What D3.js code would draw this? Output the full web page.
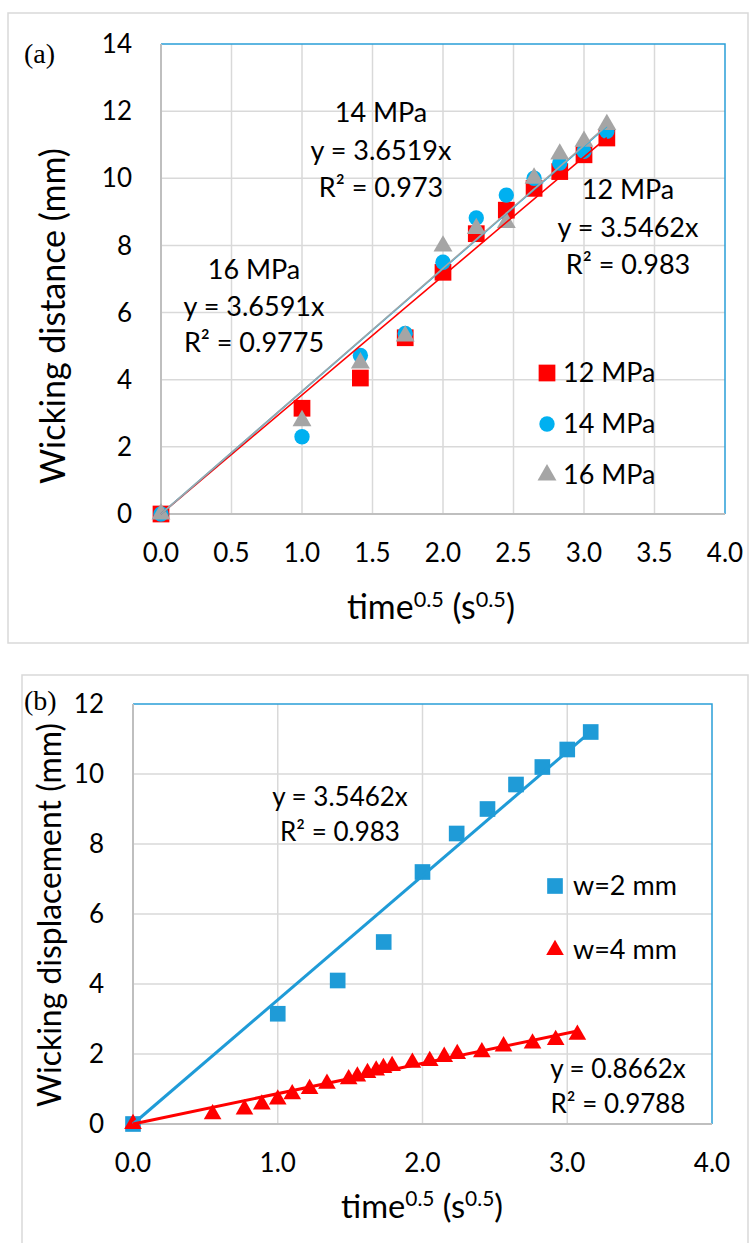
<!DOCTYPE html>
<meta charset="utf-8">
<html>
<head>
<script src="https://d3js.org/d3.v7.min.js"></script>
<style>
  body { margin: 0; background: #fff; }
  text { font-family: Lato, "Open Sans", sans-serif; fill: #000; }
</style>
</head>
<body>
<svg id="chart" width="751" height="1243"></svg>
<script>
// ---- panel (a) data ----
var timeA = [0, 1.0, 1.414, 1.732, 2.0, 2.236, 2.449, 2.646, 2.828, 3.0, 3.162];
var mpa12 = [0, 3.15, 4.05, 5.25, 7.2, 8.35, 9.05, 9.7, 10.2, 10.7, 11.2];
var mpa14 = [0, 2.3, 4.72, 5.38, 7.5, 8.82, 9.5, 10.0, 10.45, 10.8, 11.4];
var mpa16 = [0, 2.78, 4.5, 5.3, 7.98, 8.5, 8.68, 10.0, 10.72, 11.1, 11.6];
var slopesA = [3.5462, 3.6519, 3.6591];
var namesA = ["12 MPa", "14 MPa", "16 MPa"];

// ---- panel (b) data ----
var timeW2 = [0, 1.0, 1.414, 1.732, 2.0, 2.236, 2.449, 2.646, 2.828, 3.0, 3.162];
var dispW2 = [0, 3.15, 4.1, 5.2, 7.2, 8.3, 9.0, 9.7, 10.2, 10.7, 11.2];
var timeW4 = [0, 0.55, 0.77, 0.89, 1.0, 1.10, 1.22, 1.34, 1.49, 1.55, 1.62, 1.68, 1.73, 1.79, 1.93, 2.05, 2.15, 2.24, 2.41, 2.56, 2.76, 2.92, 3.07];
var dispW4 = [0, 0.28, 0.42, 0.56, 0.70, 0.85, 1.0, 1.15, 1.28, 1.36, 1.46, 1.53, 1.6, 1.66, 1.75, 1.8, 1.92, 2.0, 2.05, 2.22, 2.3, 2.4, 2.55];
var slopesB = [3.5462, 0.8662];
var namesB = ["w=2 mm", "w=4 mm"];

var ticksA_x = [0, 0.5, 1, 1.5, 2, 2.5, 3, 3.5, 4];
var ticksA_y = [0, 2, 4, 6, 8, 10, 12, 14];
var ticksB_x = [0, 1, 2, 3, 4];
var ticksB_y = [0, 2, 4, 6, 8, 10, 12];

var svg = d3.select("#chart");
var FS = 26;

function drawFrame(g, x, y, w, h) {
    g.append("rect").attr("x", x).attr("y", y).attr("width", w).attr("height", h)
        .attr("fill", "#fff").attr("stroke", "#d9d9d9").attr("stroke-width", 1.5);
}

// draws grid, axes and tick labels, returns scales
function drawAxes(g, box, xDom, yDom, xt, yt) {
    var x = d3.scaleLinear().domain(xDom).range([box.left, box.right]);
    var y = d3.scaleLinear().domain(yDom).range([box.bottom, box.top]);

    g.append("g").selectAll("line").data(yt.slice(1, -1)).enter().append("line")
        .attr("x1", box.left).attr("x2", box.right)
        .attr("y1", d => y(d)).attr("y2", d => y(d))
        .attr("stroke", "#d9d9d9").attr("stroke-width", 1.5);
    g.append("g").selectAll("line").data(xt.slice(1, -1)).enter().append("line")
        .attr("y1", box.top).attr("y2", box.bottom)
        .attr("x1", d => x(d)).attr("x2", d => x(d))
        .attr("stroke", "#d9d9d9").attr("stroke-width", 1.5);

    // top & right border blue
    g.append("path")
        .attr("d", "M" + box.left + "," + box.top + "H" + box.right + "V" + box.bottom)
        .attr("fill", "none").attr("stroke", "#2a9fd8").attr("stroke-width", 1.5);
    // left & bottom axis gray
    g.append("path")
        .attr("d", "M" + box.left + "," + box.top + "V" + box.bottom + "H" + box.right)
        .attr("fill", "none").attr("stroke", "#bfbfbf").attr("stroke-width", 2);

    g.append("g").selectAll("text").data(yt).enter().append("text")
        .attr("x", box.left - 29).attr("y", d => y(d)).attr("dy", "0.35em")
        .attr("text-anchor", "end").style("font-size", FS + "px").text(d => d);
    g.append("g").selectAll("text").data(xt).enter().append("text")
        .attr("x", d => x(d)).attr("y", box.bottom + 39).attr("dy", "0.35em")
        .attr("text-anchor", "middle").style("font-size", FS + "px").text(d => d3.format(".1f")(d));
    return {x: x, y: y};
}

// x title with superscripts, sized so its width matches 'target'
function timeTitle(g, cx, baseY, target) {
    function build(fs) {
        var sup = fs * 0.64, rise = fs * 0.36;
        var t = g.append("text").attr("x", cx).attr("y", baseY)
            .attr("text-anchor", "middle").style("font-size", fs + "px");
        t.append("tspan").text("time");
        t.append("tspan").style("font-size", sup + "px").attr("dy", -rise).text("0.5");
        t.append("tspan").attr("dy", rise).text(" (s");
        t.append("tspan").style("font-size", sup + "px").attr("dy", -rise).text("0.5");
        t.append("tspan").attr("dy", rise).text(")");
        return t;
    }
    var t = build(28);
    var w = t.node().getBBox().width;
    t.remove();
    build(28 * target / w);
}

function yTitle(g, cx, cy, label, target) {
    var t = g.append("text").attr("transform", "translate(" + cx + "," + cy + ") rotate(-90)")
        .attr("dy", "0.35em").attr("text-anchor", "middle").style("font-size", "28px").text(label);
    var w = t.node().getComputedTextLength();
    t.style("font-size", (28 * target / w) + "px");
}

function textBlock(g, cx, cy, lines, gap, fs) {
    lines.forEach(function (s, i) {
        g.append("text").attr("x", cx).attr("y", cy + i * gap).attr("dy", "0.35em")
            .attr("text-anchor", "middle").style("font-size", (fs || FS) + "px").text(s);
    });
}

function panelTag(g, x, y, s) {
    g.append("text").attr("x", x).attr("y", y)
        .style("font-family", "'Liberation Serif', 'DejaVu Serif', serif")
        .style("font-size", "28px").text(s);
}

function marker(type, size) {
    return d3.symbol().type(type).size(size)();
}

// ================= panel (a) =================
var ga = svg.append("g");
drawFrame(ga, 8, 13, 740, 630);
var boxA = {left: 161, right: 725, top: 44, bottom: 514};
var sa = drawAxes(ga, boxA, [0, 4], [0, 14], ticksA_x, ticksA_y);

panelTag(ga, 24, 63, "(a)");
yTitle(ga, 53, 316, "Wicking distance (mm)", 336);
timeTitle(ga, 431, 619, 168);

var seriesA = [
    {vals: mpa12, color: "#ff0000", sym: d3.symbolSquare, size: 280},
    {vals: mpa14, color: "#00b0f0", sym: d3.symbolCircle, size: 185},
    {vals: mpa16, color: "#a5a5a5", sym: d3.symbolTriangle, size: 155}
];
seriesA.forEach(function (s) {
    ga.append("g").selectAll("path").data(s.vals).enter().append("path")
        .attr("d", marker(s.sym, s.size))
        .attr("transform", (d, i) => "translate(" + sa.x(timeA[i]) + "," + sa.y(d) + ")")
        .attr("fill", s.color);
});
seriesA.forEach(function (s, k) {
    var xe = timeA[timeA.length - 1];
    ga.append("line")
        .attr("x1", sa.x(0)).attr("y1", sa.y(0))
        .attr("x2", sa.x(xe)).attr("y2", sa.y(slopesA[k] * xe))
        .attr("stroke", s.color).attr("stroke-width", 1.6);
});

textBlock(ga, 381, 113, ["14 MPa", "y = " + slopesA[1] + "x", "R² = 0.973"], 37.5, 27);
textBlock(ga, 254, 270, ["16 MPa", "y = " + slopesA[2] + "x", "R² = 0.9775"], 36.5, 27);
textBlock(ga, 628, 190, ["12 MPa", "y = " + slopesA[0] + "x", "R² = 0.983"], 37.5, 27);

// legend (a)
seriesA.forEach(function (s, k) {
    var ly = 373 + k * 51;
    ga.append("path").attr("d", marker(s.sym, s.size))
        .attr("transform", "translate(547," + ly + ")").attr("fill", s.color);
    ga.append("text").attr("x", 563).attr("y", ly).attr("dy", "0.35em")
        .style("font-size", (FS + 1) + "px").text(namesA[k]);
});

// ================= panel (b) =================
var gb = svg.append("g");
drawFrame(gb, 22, 675, 726, 580);
var boxB = {left: 133, right: 712, top: 704, bottom: 1124};
var sb = drawAxes(gb, boxB, [0, 4], [0, 12], ticksB_x, ticksB_y);

panelTag(gb, 24, 710, "(b)");
yTitle(gb, 50, 915, "Wicking displacement (mm)", 384);
timeTitle(gb, 422, 1218, 162);

var seriesB = [
    {xs: timeW2, ys: dispW2, color: "#1f9bd7", sym: d3.symbolSquare, size: 245},
    {xs: timeW4, ys: dispW4, color: "#ff0000", sym: d3.symbolTriangle, size: 135}
];
seriesB.forEach(function (s) {
    gb.append("g").selectAll("path").data(s.ys).enter().append("path")
        .attr("d", marker(s.sym, s.size))
        .attr("transform", (d, i) => "translate(" + sb.x(s.xs[i]) + "," + sb.y(d) + ")")
        .attr("fill", s.color);
});
seriesB.forEach(function (s, k) {
    var xe = s.xs[s.xs.length - 1];
    gb.append("line")
        .attr("x1", sb.x(0)).attr("y1", sb.y(0))
        .attr("x2", sb.x(xe)).attr("y2", sb.y(slopesB[k] * xe))
        .attr("stroke", s.color).attr("stroke-width", 3);
});

textBlock(gb, 340, 797, ["y = " + slopesB[0] + "x", "R² = 0.983"], 35);
textBlock(gb, 618, 1069, ["y = " + slopesB[1] + "x", "R² = 0.9788"], 35);

seriesB.forEach(function (s, k) {
    var ly = 886 + k * 64;
    gb.append("path").attr("d", marker(s.sym, s.size))
        .attr("transform", "translate(555," + ly + ")").attr("fill", s.color);
    gb.append("text").attr("x", 573).attr("y", ly).attr("dy", "0.35em")
        .style("font-size", (FS + 1) + "px").text(namesB[k]);
});
</script>
</body>
</html>
